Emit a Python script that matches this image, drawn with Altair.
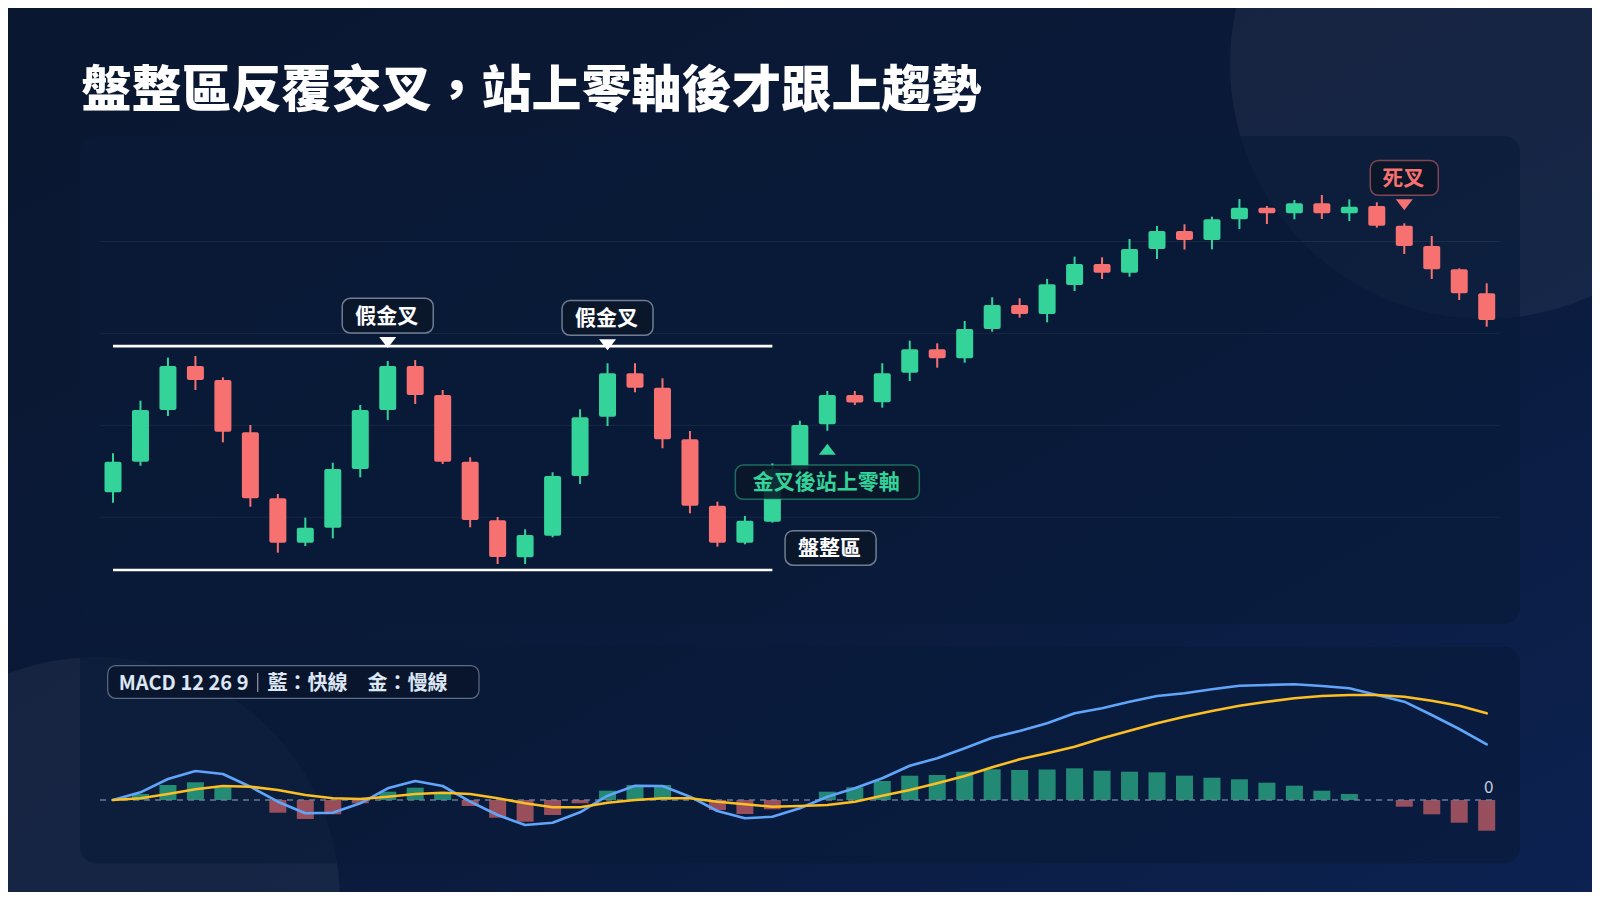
import altair as alt
import pandas as pd

FONT = "Noto Sans CJK TC"
UP = "#34d399"
DOWN = "#f87171"
BLUE = "#60a5fa"
GOLD = "#fbbf24"

# ---------------- data ----------------
opens = [12.71, 16.04, 21.66, 26.45, 24.93, 19.24, 12.06, 7.23, 8.86, 15.24,
         21.66, 26.45, 23.30, 16.04, 9.66, 5.64, 7.99, 14.48, 20.94, 25.66,
         24.09, 18.48, 11.25, 7.23, 9.51, 15.21, 20.11, 23.30, 22.50, 25.72,
         28.27, 27.29, 30.48, 33.09, 32.11, 35.27, 37.55, 36.61, 39.18, 41.14,
         40.16, 42.42, 43.68, 43.07, 44.16, 43.07, 43.86, 41.72, 39.51, 36.98,
         34.36]
highs = [16.95, 22.68, 27.36, 27.54, 25.22, 20.03, 12.52, 9.95, 15.93, 22.21,
         27.00, 27.10, 23.84, 16.52, 10.02, 8.68, 14.89, 21.74, 26.75, 26.75,
         25.11, 19.38, 11.69, 10.13, 15.86, 20.50, 23.73, 23.73, 26.75, 29.21,
         28.92, 31.35, 33.93, 33.82, 35.92, 38.35, 38.28, 40.27, 41.69, 41.87,
         42.70, 44.62, 43.86, 44.52, 45.06, 44.59, 44.27, 41.98, 40.60, 37.08,
         35.45]
lows = [11.58, 15.60, 21.01, 23.84, 18.15, 11.14, 6.14, 6.87, 7.70, 14.34,
        20.58, 22.32, 15.79, 8.90, 4.91, 4.91, 7.81, 13.61, 19.92, 23.59,
        17.50, 10.42, 6.79, 7.05, 9.40, 14.90, 19.41, 22.21, 21.92, 24.82,
        26.27, 26.81, 30.18, 31.71, 31.21, 34.61, 35.92, 36.17, 38.10, 39.13,
        39.15, 41.36, 41.90, 42.42, 42.45, 42.23, 41.50, 38.64, 35.92, 33.63,
        30.73]
closes = [16.04, 21.66, 26.45, 24.93, 19.30, 12.06, 7.23, 8.86, 15.24, 21.66,
          26.45, 23.30, 16.04, 9.70, 5.67, 8.06, 14.48, 20.87, 25.66, 24.09,
          18.48, 11.25, 7.23, 9.62, 15.21, 20.03, 23.30, 22.48, 25.66, 28.27,
          27.29, 30.48, 33.09, 32.11, 35.34, 37.55, 36.61, 39.18, 41.14, 40.16,
          42.42, 43.68, 43.07, 44.16, 43.07, 43.79, 41.72, 39.51, 36.98, 34.36,
          31.46]

macd_fast = [0, 0.77, 2.1, 2.9, 2.6, 1.33, -0.17, -1.33, -1.27, -0.33,
             1.17, 1.9, 1.4, -0.17, -1.5, -2.5, -2.27, -1.23, 0.43, 1.43,
             1.4, 0.33, -1.1, -1.83, -1.67, -0.83, 0.33, 1.17, 2.17, 3.43,
             4.17, 5.17, 6.23, 6.9, 7.67, 8.67, 9.17, 9.83, 10.4, 10.67,
             11.07, 11.43, 11.5, 11.57, 11.4, 11.17, 10.5, 9.83, 8.5, 7.1,
             5.57]
macd_slow = [0, 0.17, 0.6, 1.07, 1.4, 1.33, 1.0, 0.5, 0.17, 0.1,
             0.33, 0.6, 0.73, 0.6, 0.17, -0.33, -0.73, -0.73, -0.27, 0,
             0.17, 0.17, -0.17, -0.43, -0.67, -0.6, -0.5, -0.17, 0.43, 1.0,
             1.67, 2.4, 3.27, 4.07, 4.67, 5.33, 6.17, 6.93, 7.67, 8.33,
             8.9, 9.43, 9.83, 10.17, 10.4, 10.5, 10.5, 10.33, 9.93, 9.43,
             8.67]
macd_hist = [0, 0.6, 1.5, 1.77, 1.27, 0, -1.27, -1.9, -1.43, -0.33,
             0.83, 1.23, 0.67, -0.6, -1.77, -2.17, -1.5, -0.33, 0.93, 1.5,
             1.5, 0, -1.0, -1.4, -0.93, 0, 0.83, 1.27, 1.9, 2.43,
             2.5, 2.83, 3.07, 3.0, 3.05, 3.17, 2.93, 2.83, 2.77, 2.43,
             2.23, 2.07, 1.73, 1.43, 0.93, 0.6, 0, -0.67, -1.43, -2.27,
             -3.07]

grid_levels = [10, 20, 30, 40]
range_high = 28.62
range_low = 4.25
range_first = 0
range_last = 24
signal_idx = [10, 18, 26, 47]
signal_text = ["假金叉", "假金叉", "金叉後站上零軸", "死叉"]
zone_text = "盤整區"
title_text = "盤整區反覆交叉，站上零軸後才跟上趨勢"
legend_left = "MACD 12 26 9"
legend_right = "藍：快線　金：慢線"

# ---------------- tables ----------------
n = len(opens)
idx = list(range(n))
candles = pd.DataFrame({"t": idx, "open": opens, "high": highs, "low": lows, "close": closes})
candles["dir"] = ["up" if c >= o else "down" for o, c in zip(opens, closes)]
macd = pd.DataFrame({"t": idx, "fast": macd_fast, "slow": macd_slow, "hist": macd_hist})
macd["dir"] = ["up" if h >= 0 else "down" for h in macd_hist]
macd["zero"] = 0

W, H = 1584, 884
X = alt.Scale(domain=[0, n - 1], range=[105, 1478.7], nice=False, zero=False, padding=0)
YP = alt.Scale(domain=[0, 50], range=[601.1, 141.6], nice=False, zero=False, padding=0)
YM = alt.Scale(domain=[-4, 12.4], range=[832, 668], nice=False, zero=False, padding=0)
DIR = alt.Scale(domain=["up", "down"], range=[UP, DOWN])

one = pd.DataFrame({"k": [0]})


def vrect(x, x2, y, y2, **kw):
    return alt.Chart(one).mark_rect(**kw).encode(
        x=alt.value(x), x2=alt.value(x2), y=alt.value(y), y2=alt.value(y2))


def circle(cx, cy, r):
    return alt.Chart(one).mark_point(shape="circle", filled=True, size=(2 * r) ** 2,
                                     color="white", opacity=0.05).encode(
        x=alt.value(cx), y=alt.value(cy))


grad = {"gradient": "linear", "x1": 0, "y1": 0, "x2": 1, "y2": 1,
        "stops": [{"offset": 0, "color": "#0a1730"},
                  {"offset": 0.55, "color": "#0a1a3a"},
                  {"offset": 1, "color": "#0d2252"}]}
background = vrect(-10, W + 10, -10, H + 10, fill=grad)
circ1 = circle(1477, 56, 255)
circ2 = circle(89, 892, 243)
panel1 = vrect(72, 1512, 128, 616, fill="#091a38", opacity=0.6, cornerRadius=16)
panel2 = vrect(72, 1512, 638.7, 855.3, fill="#091a38", opacity=0.6, cornerRadius=16)

title = alt.Chart(one).mark_text(
    text=title_text, font=FONT, fontSize=50, fontWeight=900, color="white",
    align="left", baseline="alphabetic").encode(x=alt.value(73.5), y=alt.value(98.5))

grid = alt.Chart(pd.DataFrame({"level": grid_levels})).mark_rule(
    color="white", opacity=0.06, strokeWidth=1).encode(
    y=alt.Y("level:Q", scale=YP, axis=None), x=alt.value(92), x2=alt.value(1492))

rng = pd.DataFrame({"p": [range_high, range_low], "t0": [range_first] * 2, "t1": [range_last] * 2})
range_lines = alt.Chart(rng).mark_rule(color="white", strokeWidth=2.6).encode(
    x=alt.X("t0:Q", scale=X, axis=None), x2="t1:Q",
    y=alt.Y("p:Q", scale=YP, axis=None))

xenc = alt.X("t:Q", scale=X, axis=None)
wick = alt.Chart(candles).mark_rule(strokeWidth=2).encode(
    x=xenc, y=alt.Y("low:Q", scale=YP, axis=None), y2="high:Q",
    color=alt.Color("dir:N", scale=DIR, legend=None))
body = alt.Chart(candles).mark_bar(width=17, cornerRadius=2, orient="vertical").encode(
    x=xenc, y=alt.Y("open:Q", scale=YP, axis=None), y2="close:Q",
    color=alt.Color("dir:N", scale=DIR, legend=None))

TRI_DOWN = "M-1,-0.65L1,-0.65L0,0.65Z"
TRI_UP = "M-1,0.65L1,0.65L0,-0.65Z"


def label_layers(t, p, text, above, txt_color, stroke, stroke_op, width,
                 tri_color=None, x_off=0, box=None):
    d = pd.DataFrame({"t": [t], "p": [p], "label": [text]})
    enc = dict(x=alt.X("t:Q", scale=X, axis=None), y=alt.Y("p:Q", scale=YP, axis=None))
    if box is None:
        box = (-62.7, -28.0) if above else (34.2, 68.6)
    top, bot = box
    layers = [
        alt.Chart(d).mark_bar(orient="vertical", width=width, cornerRadius=8,
                              fill="#0a1729", fillOpacity=0.88, stroke=stroke,
                              strokeOpacity=stroke_op, strokeWidth=1.5,
                              xOffset=x_off, yOffset=top, y2Offset=bot).encode(**enc, y2="p:Q"),
        alt.Chart(d).mark_text(font=FONT, fontSize=21, fontWeight="bold", color=txt_color,
                               align="center", baseline="middle", xOffset=x_off - 1,
                               yOffset=(top + bot) / 2 + 1).encode(**enc, text="label:N"),
    ]
    if tri_color is not None:
        layers.append(alt.Chart(d).mark_point(
            shape=TRI_DOWN if above else TRI_UP, filled=True, size=289, opacity=1,
            color=tri_color, yOffset=-18.5 if above else 18.5).encode(**enc))
    return layers


ann = []
ann += label_layers(signal_idx[0], highs[signal_idx[0]], signal_text[0], True,
                    "white", "#8a96ab", 0.8, 91, tri_color="white")
ann += label_layers(signal_idx[1], highs[signal_idx[1]], signal_text[1], True,
                    "white", "#8a96ab", 0.8, 91, tri_color="white")
ann += label_layers(signal_idx[2], lows[signal_idx[2]], signal_text[2], False,
                    UP, UP, 0.45, 184, tri_color=UP)
ann += label_layers(signal_idx[3], highs[signal_idx[3]], signal_text[3], True,
                    DOWN, DOWN, 0.5, 68, tri_color=DOWN)
ann += label_layers(range_last, range_low, zone_text, True, "white", "#8a96ab", 0.8, 91,
                    x_off=58.2, box=(-39.4, -4.8))

# ---------------- MACD panel ----------------
leg_box = vrect(99.7, 471, 657.7, 690.3, fill="#08142a", fillOpacity=0.75,
                stroke="#5d6c86", strokeWidth=1.2, cornerRadius=8)
leg_t1 = alt.Chart(one).mark_text(text=legend_left, font=FONT, fontSize=20, fontWeight="bold",
                                  color="#dde6f3", align="left", baseline="alphabetic").encode(
    x=alt.value(110.8), y=alt.value(682))
leg_sep = alt.Chart(one).mark_rule(color="#8d9ab0", strokeWidth=1.2).encode(
    x=alt.value(249.7), y=alt.value(665), y2=alt.value(684))
leg_t2 = alt.Chart(one).mark_text(text=legend_right, font=FONT, fontSize=20, fontWeight="bold",
                                  color="#dde6f3", align="left", baseline="alphabetic").encode(
    x=alt.value(259.5), y=alt.value(682))

hist = alt.Chart(macd).mark_bar(width=17, opacity=0.6, orient="vertical").encode(
    x=xenc, y=alt.Y("hist:Q", scale=YM, axis=None), y2="zero:Q",
    color=alt.Color("dir:N", scale=DIR, legend=None))
zero_line = alt.Chart(pd.DataFrame({"v": [0]})).mark_rule(
    color="#6b7a92", strokeDash=[6, 5], strokeWidth=1.5).encode(
    y=alt.Y("v:Q", scale=YM, axis=None), x=alt.value(92), x2=alt.value(1487))
fast = alt.Chart(macd).mark_line(color=BLUE, strokeWidth=2.6, strokeCap="round",
                                 strokeJoin="round").encode(
    x=xenc, y=alt.Y("fast:Q", scale=YM, axis=None))
slow = alt.Chart(macd).mark_line(color=GOLD, strokeWidth=2.6, strokeCap="round",
                                 strokeJoin="round").encode(
    x=xenc, y=alt.Y("slow:Q", scale=YM, axis=None))
zero_lab = alt.Chart(pd.DataFrame({"t": [n - 1], "v": [0], "label": ["0"]})).mark_text(
    font=FONT, fontSize=17, color="#c3cede", align="center", baseline="middle",
    dx=2, dy=-12).encode(x=xenc, y=alt.Y("v:Q", scale=YM, axis=None), text="label:N")

chart = alt.layer(
    background, circ1, circ2, panel1, panel2, title,
    grid, range_lines, wick, body, *ann,
    leg_box, leg_t1, leg_sep, leg_t2,
    hist, zero_line, fast, slow, zero_lab,
).resolve_scale(y="independent").properties(
    width=W, height=H, padding=0,
    autosize=alt.AutoSizeParams(type="none"),
).configure(background="#0a1830").configure_view(stroke=None)

chart.save("out.html", embed_options={"renderer": "svg", "actions": False})
